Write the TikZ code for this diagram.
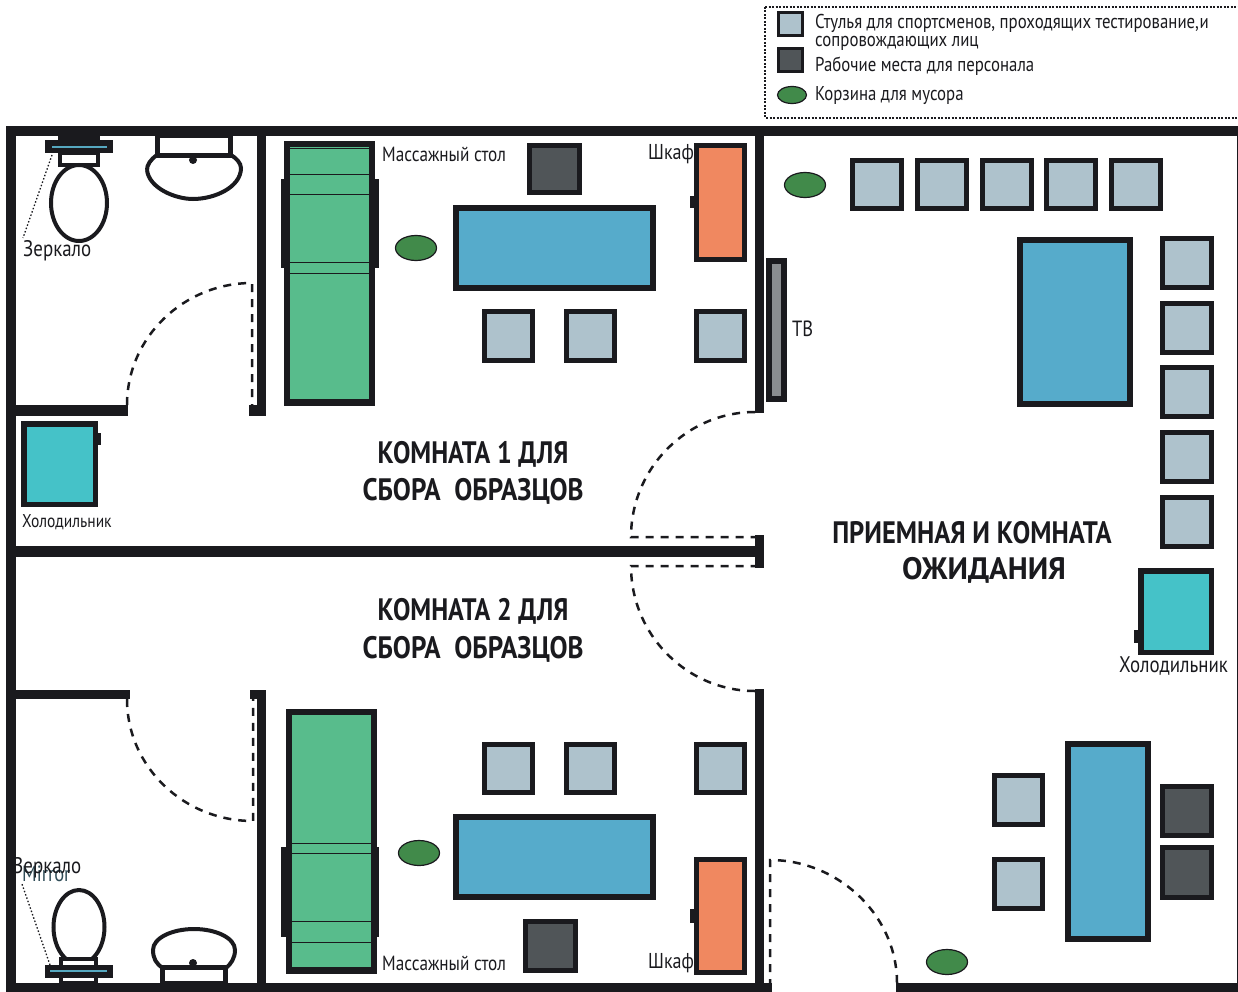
\documentclass[tikz,border=0pt]{standalone}
\usepackage{fontspec}
\setmainfont{PT Sans}
\definecolor{wallcol}{HTML}{1A1A1E}
\definecolor{chaircol}{HTML}{AEC2CC}
\definecolor{staffcol}{HTML}{505558}
\definecolor{tablecol}{HTML}{56ABCB}
\definecolor{couchcol}{HTML}{58BC8C}
\definecolor{cupboardcol}{HTML}{F08860}
\definecolor{fridgecol}{HTML}{45C2C8}
\definecolor{bincol}{HTML}{418A4A}
\definecolor{tvcol}{HTML}{8A8D90}
\definecolor{mirrorcol}{HTML}{56A8C0}
\newcommand{\squeeze}[1]{\scalebox{0.84}[1]{#1}}
\tikzset{
  wall/.style={fill=wallcol},
  chairbox/.style={draw=wallcol,fill=chaircol,line width=5pt},
  staffbox/.style={draw=wallcol,fill=staffcol,line width=5pt},
  tablebox/.style={draw=wallcol,fill=tablecol,line width=6pt},
  couchbox/.style={draw=wallcol,fill=couchcol,line width=6pt},
  cupboardbox/.style={draw=wallcol,fill=cupboardcol,line width=5pt},
  fridgebox/.style={draw=wallcol,fill=fridgecol,line width=5.5pt},
  binshape/.style={draw=wallcol,fill=bincol,line width=1.2pt},
  doorline/.style={draw=wallcol,line width=2.5pt,dash pattern=on 8pt off 7pt},
  fixture/.style={draw=wallcol,line width=4pt},
  leader/.style={draw=wallcol,line width=1.3pt,dash pattern=on 1.5pt off 2pt},
  smalltext/.style={font=\fontsize{20}{20}\selectfont,text=wallcol,inner sep=0pt,anchor=west},
  roomtext/.style={font=\bfseries\fontsize{31}{37}\selectfont,text=wallcol,inner sep=0pt}
}
\begin{document}
\begin{tikzpicture}[x=1pt,y=-1pt]
\useasboundingbox (0,0) rectangle (1238,992);

% Legend
\draw[line width=2pt,dash pattern=on 2pt off 1.5pt,draw=wallcol] (765,7) -- (1238,7) (765,7) -- (765,118) -- (1238,118);
\draw[chairbox,line width=3pt] (778.5,12.5) rectangle (802.5,35.5);
\draw[staffbox,line width=3pt] (778.5,48.5) rectangle (802.5,71.5);
\draw[binshape] (792,95) ellipse [x radius=14.5,y radius=8.5];
\node[smalltext] (legendchairs) at (815,23.5) {\squeeze{Стулья для спортсменов, проходящих тестирование,и}};
\node[smalltext] (legendescort) at (815,43.5) {\squeeze{сопровождающих лиц}};
\node[smalltext] (legendstaff) at (815,66.5) {\squeeze{Рабочие места для персонала}};
\node[smalltext] (legendbin) at (815,95.5) {\squeeze{Корзина для мусора}};

% Outer walls
\fill[wall] (6,126) rectangle (1238,136);
\fill[wall] (6,126) rectangle (16,992);
\fill[wall] (6,983) rectangle (772,992);
\fill[wall] (896,983) rectangle (1238,992);
\fill[wall] (1236.5,126) rectangle (1238,992);

% Inner walls
\fill[wall] (16,546) rectangle (755,557);
\fill[wall] (755,136) rectangle (764,413);
\fill[wall] (755,535) rectangle (764,568);
\fill[wall] (755,689) rectangle (764,983);
\fill[wall] (257,136) rectangle (266,416);
\fill[wall] (249,405) rectangle (266,416);
\fill[wall] (16,405) rectangle (128,416);
\fill[wall] (16,690) rectangle (130,699);
\fill[wall] (250,690) rectangle (266,699);
\fill[wall] (257,690) rectangle (266,983);

% Doors
\draw[doorline] (127,405) .. controls (127,337) and (184,283) .. (252,283) -- (252,405);
\draw[doorline] (127,699) .. controls (127,767) and (184,821) .. (253,821) -- (253,699);
\draw[doorline] (755,412) .. controls (687,412) and (631,468) .. (631,537) -- (755,537);
\draw[doorline] (755,691) .. controls (687,691) and (631,635) .. (631,566) -- (755,566);
\draw[doorline] (897,983) .. controls (897,915) and (838,860) .. (770,860) -- (770,983);

% Bathroom 1
\fill[wall] (58,136) rectangle (100,141);
\draw[fixture] (60,153) rectangle (98,165);
\draw[fixture,fill=white] (79,203) ellipse [x radius=28,y radius=38];
\fill[wall] (45,140) rectangle (113,153.5);
\draw[mirrorcol,line width=1.2pt] (52,147) -- (107,147);
\draw[fixture,fill=white] (147,170) .. controls (149,188) and (175,199) .. (193,199) .. controls (215,199) and (241,187) .. (241,168) .. controls (241,163) and (236,158) .. (231,155) -- (157,155) .. controls (150,160) and (147,165) .. (147,170);
\draw[fixture,line width=5pt,fill=white] (157.5,136) rectangle (230,155.5);
\fill[wall] (193,160) circle (4);
\coordinate (mirrorA) at (52,155);
\coordinate (mirrorAend) at (23,238);
\draw[leader] (mirrorA) -- (mirrorAend);
\node[smalltext,font=\fontsize{22.5}{22.5}\selectfont] (mirrortextA) at (23,250.5) {\squeeze{Зеркало}};

% Bathroom 2
\draw[fixture,fill=white] (79,927) ellipse [x radius=25.5,y radius=37];
\draw[fixture,fill=white] (61,959) rectangle (96,983);
\fill[wall] (45,965) rectangle (113,978);
\draw[mirrorcol,line width=1.2pt] (50,971) -- (107,971);
\draw[fixture,fill=white] (163,968) .. controls (156,964) and (153,958) .. (153,950) .. controls (153,938) and (172,929) .. (194,929) .. controls (216,929) and (235,938) .. (235,950) .. controls (235,958) and (231,964) .. (226,968) -- cycle;
\draw[fixture,line width=5pt,fill=white] (162.5,967.5) rectangle (225.5,983);
\fill[wall] (193,963) circle (4);
\coordinate (mirrorB) at (50,965);
\coordinate (mirrorBend) at (22,884);
\draw[leader] (mirrorB) -- (mirrorBend);
\node[smalltext,font=\fontsize{22}{22}\selectfont,text=mirrorcol!35!wallcol] (mirrorword) at (22,874) {\squeeze{Mirror}};
\node[smalltext,font=\fontsize{22.5}{22.5}\selectfont] (mirrortextB) at (13,868) {\squeeze{Зеркало}};

% Room 1
\fill[wall] (281,179) rectangle (379,268);
\draw[couchbox] (287,144) rectangle (372,403);
\foreach \y in {149,175,195,262,273,399}
  \draw[wallcol,line width=1pt] (290,\y) -- (369,\y);
\draw[binshape] (416,248) ellipse [x radius=20.5,y radius=12.5];
\draw[tablebox] (456,208) rectangle (653,288);
\draw[staffbox] (529.5,145.5) rectangle (579.5,192.5);
\foreach \x in {484.5,566.5,696.5}
  \draw[chairbox] (\x,311.5) rectangle ++(48,49);
\fill[wall] (690,196) rectangle (695,208);
\node[smalltext,font=\fontsize{20.5}{20.5}\selectfont] (couchtextA) at (382,154) {\squeeze{Массажный стол}};
\node[smalltext,font=\fontsize{21.5}{21.5}\selectfont] (cupboardtextA) at (648,154) {\squeeze{Шкаф}};
\draw[cupboardbox] (696.5,145.5) rectangle (744.5,259);
\fill[wall] (98,433) rectangle (101,445);
\draw[fridgebox] (23.75,423.75) rectangle (95.25,504.25);
\node[smalltext,font=\fontsize{18.5}{18.5}\selectfont] (fridgetextA) at (22,522) {\squeeze{Холодильник}};
\node[roomtext] (roomAtop) at (473,454) {\squeeze{КОМНАТА 1 ДЛЯ}};
\node[roomtext] (roomAbottom) at (473,491) {\scalebox{0.87}[1]{СБОРА\ \ ОБРАЗЦОВ}};

% Room 2
\node[roomtext] (roomBtop) at (473,611) {\squeeze{КОМНАТА 2 ДЛЯ}};
\node[roomtext] (roomBbottom) at (473,649) {\scalebox{0.87}[1]{СБОРА\ \ ОБРАЗЦОВ}};
\fill[wall] (281,847) rectangle (379,937);
\draw[couchbox] (289,712) rectangle (374,971);
\foreach \y in {843,853,921,942,967}
  \draw[wallcol,line width=1pt] (292,\y) -- (371,\y);
\draw[binshape] (419,853) ellipse [x radius=20.5,y radius=12.5];
\draw[tablebox] (456,817) rectangle (653,897);
\draw[staffbox] (525.5,921.5) rectangle (575.5,970.5);
\foreach \x in {484.5,566.5,696.5}
  \draw[chairbox] (\x,744.5) rectangle ++(48,48);
\fill[wall] (690,909) rectangle (695,923);
\node[smalltext,font=\fontsize{20.5}{20.5}\selectfont] (couchtextB) at (382,963) {\squeeze{Массажный стол}};
\node[smalltext,font=\fontsize{21.5}{21.5}\selectfont] (cupboardtextB) at (648,963) {\squeeze{Шкаф}};
\draw[cupboardbox] (696.5,859.5) rectangle (744.5,972.5);

% Reception
\draw[draw=wallcol,fill=tvcol,line width=6pt] (769,261) rectangle (784,399);
\node[smalltext,font=\fontsize{22}{22}\selectfont] (tvtext) at (792,329) {\squeeze{ТВ}};
\draw[binshape] (805,185) ellipse [x radius=20.5,y radius=12.5];
\foreach \x in {852.5,917.5,982.5,1046.5,1111.5}
  \draw[chairbox] (\x,160.5) rectangle ++(49,48);
\foreach \y in {238.5,303.5,367.5,432.5,497.5}
  \draw[chairbox] (1162.5,\y) rectangle ++(49,48.5);
\draw[tablebox] (1020,240) rectangle (1130,404);
\fill[wall] (1134,630) rectangle (1139,643);
\draw[fridgebox] (1140.75,570.75) rectangle (1211.25,652.25);
\node[smalltext,font=\fontsize{22.5}{22.5}\selectfont] (fridgetextB) at (1119,666) {\squeeze{Холодильник}};
\node[roomtext] (receptiontop) at (972,533) {\scalebox{0.855}[1]{ПРИЕМНАЯ И КОМНАТА}};
\node[roomtext] (receptionbottom) at (984,570) {\scalebox{0.99}[1]{ОЖИДАНИЯ}};
\draw[tablebox] (1068,744) rectangle (1148,939);
\foreach \y in {775.5,859.5}
  \draw[chairbox] (994.5,\y) rectangle ++(48,49);
\draw[staffbox] (1162.5,786.5) rectangle (1211.5,835.5);
\draw[staffbox] (1162.5,847.5) rectangle (1211.5,897.5);
\draw[binshape] (947,962) ellipse [x radius=20.5,y radius=12.5];
\end{tikzpicture}
\end{document}
